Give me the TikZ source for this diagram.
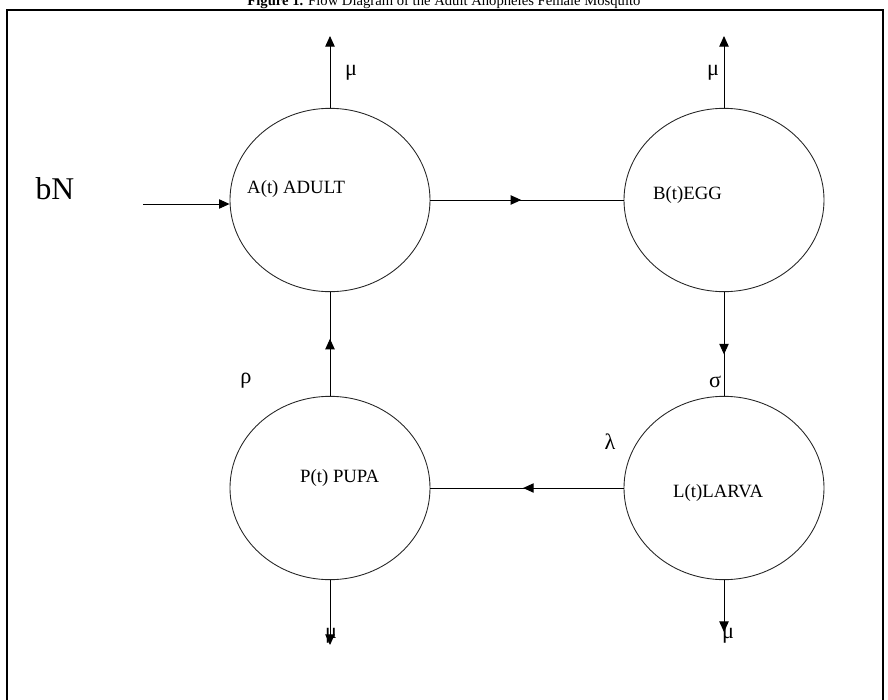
\documentclass[tikz,border=0pt]{standalone}
\usepackage{fontspec}
\setmainfont{Liberation Serif}
\usetikzlibrary{shapes.geometric,arrows.meta,decorations.markings}
\begin{document}
\begin{tikzpicture}[x=0.03cm,y=-0.03cm,
  stage/.style={ellipse,draw=black!85,line width=0.75pt,minimum width=6cm,minimum height=5.5cm,inner sep=0pt},
  stagetext/.style={anchor=west,inner sep=0pt,font=\fontsize{16}{19}\selectfont},
  rate/.style={inner sep=0pt,font=\fontsize{19}{22}\selectfont},
  flow/.style={line width=0.8pt,postaction={decorate},decoration={markings,mark=at position #1 with {\arrow{Triangle[length=9pt,width=8pt]}}}},
  loss/.style={line width=0.8pt,-{Triangle[length=9pt,width=8pt]}}]
  \useasboundingbox (0,0) rectangle (888,700);
  % Frame and title
  \draw[line width=1pt] (7,10) rectangle (883,720);
  \node[anchor=base,inner sep=0pt,font=\fontsize{12.5}{14}\selectfont] (title) at (444,6)
    {\textbf{Figure 1.} Flow Diagram of the Adult Anopheles Female Mosquito};
  % Stages
  \node[stage] (adult) at (330,200) {};
  \node[stage] (egg) at (724,200) {};
  \node[stage] (larva) at (724,488) {};
  \node[stage] (pupa) at (330,488) {};
  \node[stagetext] (adulttext) at (247,189) {A(t) ADULT};
  \node[stagetext] (eggtext) at (653,195) {B(t)EGG};
  \node[stagetext] (larvatext) at (673,493) {L(t)LARVA};
  \node[stagetext] (pupatext) at (300,478) {P(t) PUPA};
  % Recruitment
  \node[inner sep=0pt,font=\fontsize{27}{30}\selectfont] (bn) at (55,189) {bN};
  \coordinate (bnstart) at (143,204);
  \draw[loss] (bnstart) -- (bnstart -| adult.west);
  % Transitions
  \draw[flow=0.47] (adult.east) -- (egg.west);
  \draw[flow=0.6] (egg.south) -- (larva.north);
  \draw[flow=0.52] (larva.west) -- (pupa.east);
  \draw[flow=0.55] (pupa.north) -- (adult.south);
  \node[rate] (sigma) at (715,382) {σ};
  \node[rate] (rho) at (246,381) {ρ};
  \node[rate] (lambda) at (610,442) {λ};
  % Deaths
  \coordinate (adultdeath) at (330,36);
  \coordinate (eggdeath) at (724,36);
  \coordinate (pupadeath) at (330,645);
  \coordinate (larvadeath) at (724,632);
  \draw[loss] (adult.north) -- (adultdeath);
  \draw[loss] (egg.north) -- (eggdeath);
  \draw[loss] (pupa.south) -- (pupadeath);
  \draw[loss] (larva.south) -- (larvadeath);
  \node[rate] (muadult) at (351,73) {μ};
  \node[rate] (muegg) at (713,73) {μ};
  \node[rate] (mupupa) at (331,636) {μ};
  \node[rate] (mularva) at (728,636) {μ};
\end{tikzpicture}
\end{document}
